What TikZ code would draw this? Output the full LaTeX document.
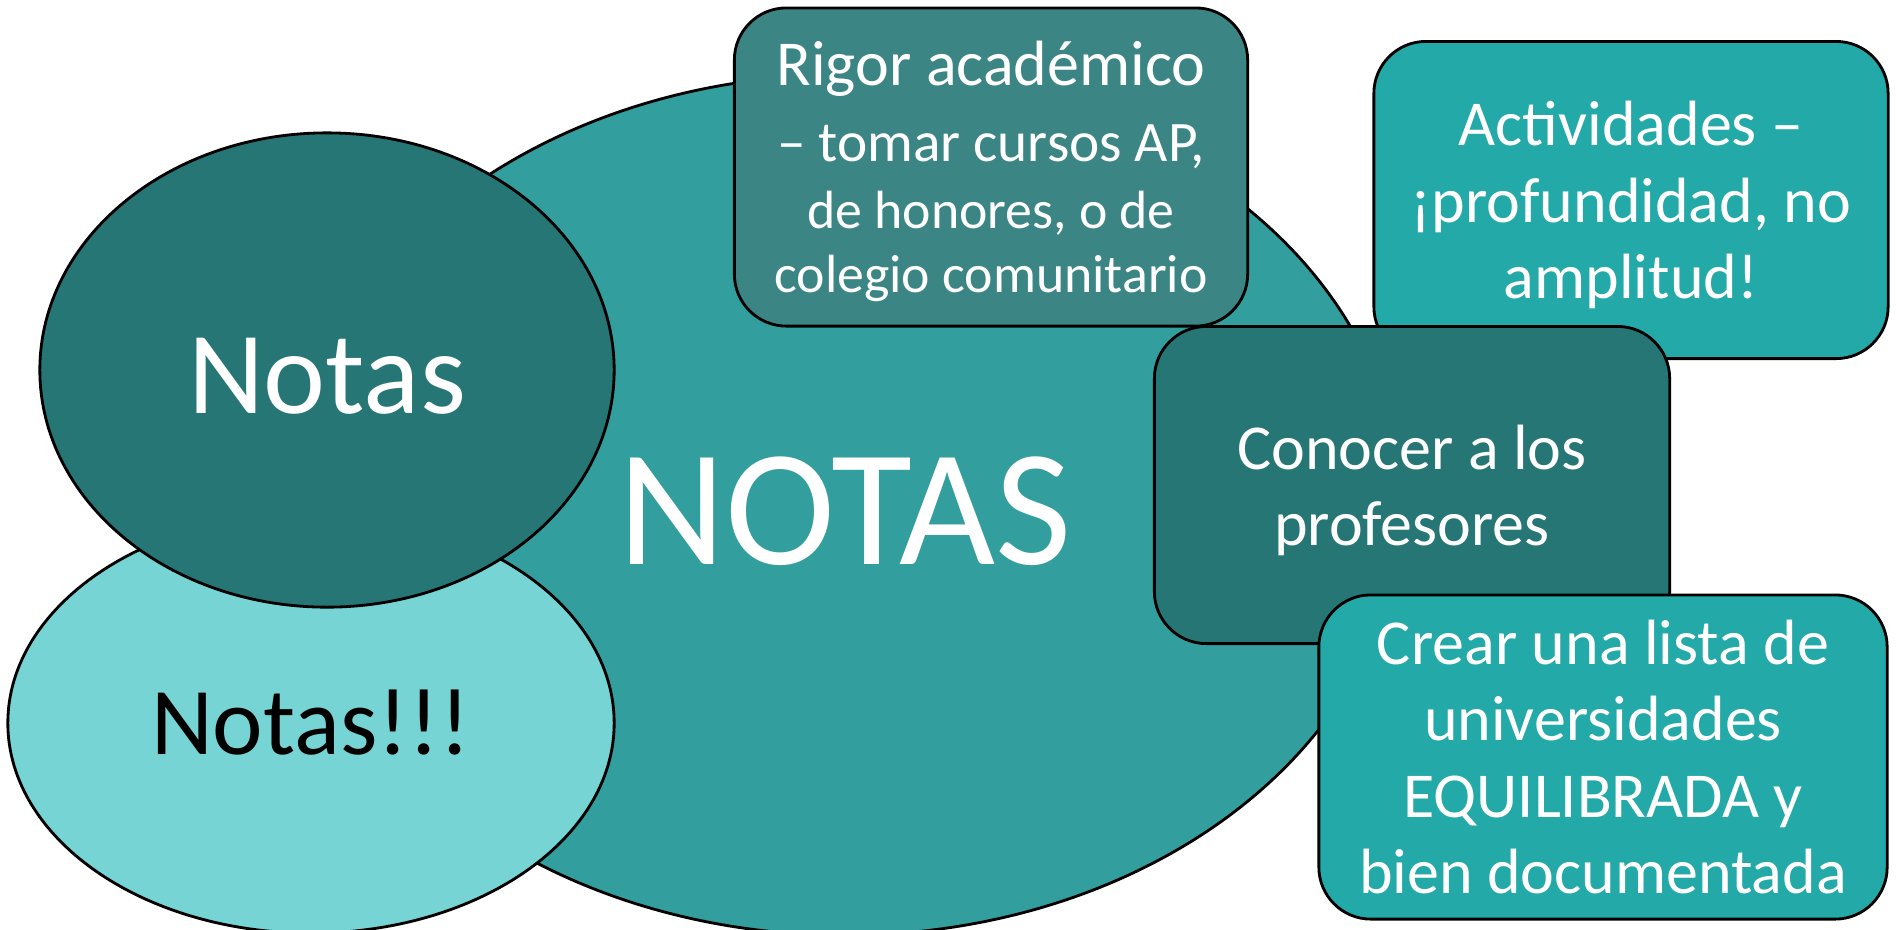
\documentclass[tikz,border=0pt]{standalone}
\usepackage{fontspec}
\setmainfont{Carlito}
\usepackage{tikz}
\usetikzlibrary{shapes.geometric}
\definecolor{tealmid}{HTML}{339E9E}
\definecolor{tealdark}{HTML}{277676}
\definecolor{teallight}{HTML}{76D4D4}
\definecolor{tealgrey}{HTML}{3B8585}
\definecolor{tealbright}{HTML}{24A9A9}

\begin{document}
\begin{tikzpicture}[x=0.01cm,y=-0.01cm,
  blob/.style={ellipse,draw=black,line width=0.8pt,inner sep=0pt},
  box/.style={rectangle,rounded corners=0.52cm,draw=black,line width=0.8pt,
    text=white,align=center,inner sep=0pt,font={\fontsize{18.2}{21.7}\selectfont}}]
\useasboundingbox (0,0) rectangle (1897,929);
\clip (0,0) rectangle (1897,929);
\node[blob,fill=tealmid,minimum width=11.1cm,minimum height=8.6cm,text=white,
  text height=34pt,text depth=0pt,
  font={\fontsize{47.2}{56}\selectfont}] (big) at (845,505) {NOTAS};
\node[blob,fill=teallight,minimum width=6.06cm,minimum height=4.2cm,
  font={\fontsize{27.2}{33}\selectfont}] (nn) at (311,723) {Notas!!!};
\node[blob,fill=tealdark,minimum width=5.74cm,minimum height=4.74cm,text=white,
  text height=24.5pt,text depth=0pt,
  font={\fontsize{33.4}{40}\selectfont}] (n) at (327,370) {Notas};
\node[box,fill=tealgrey,minimum width=5.13cm,minimum height=3.18cm,
  text depth=0pt,font={\fontsize{15.3}{18.2}\selectfont}] (rigor) at (991,167)
  {{\fontsize{18.2}{18.2}\selectfont Rigor académico}\\[3.4pt]
   {\fontsize{16.3}{18.2}\selectfont -- tomar cursos AP,}\\[0.9pt]
   de honores, o de\\colegio comunitario};
\node[box,fill=tealbright,minimum width=5.14cm,minimum height=3.17cm,
  text depth=0pt] (act) at (1631,200)
  {Actividades --\\¡profundidad, no\\amplitud!};
\node[box,fill=tealdark,minimum width=5.15cm,minimum height=3.17cm,
  text depth=0pt] (prof) at (1412,485)
  {Conocer a los\\profesores};
\node[box,fill=tealbright,minimum width=5.68cm,minimum height=3.24cm] (lista) at (1603,757)
  {Crear una lista de\\universidades\\EQUILIBRADA y\\bien documentada};
\end{tikzpicture}
\end{document}
